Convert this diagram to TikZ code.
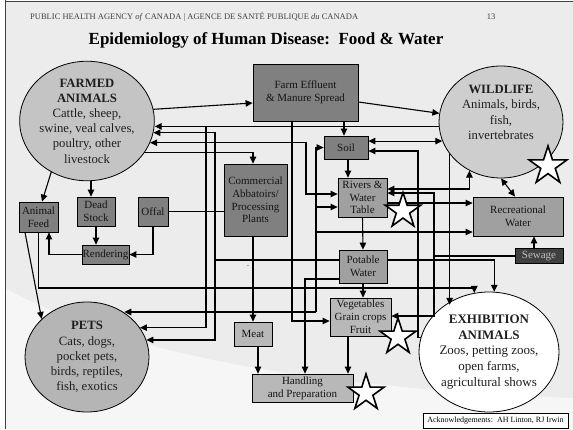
\documentclass[tikz,border=0pt]{standalone}
\usepackage{fontspec}
\setmainfont{Liberation Serif}
\usetikzlibrary{shapes.geometric,arrows.meta}

\definecolor{slidebg}{RGB}{236,236,236}
\definecolor{boxdark}{RGB}{128,128,128}
\definecolor{boxmid}{RGB}{160,160,160}
\definecolor{boxlight}{RGB}{184,184,184}
\definecolor{ovalfa}{RGB}{196,196,196}
\definecolor{ovalwl}{RGB}{206,206,206}
\definecolor{ovalpets}{RGB}{181,181,181}
\definecolor{sewfill}{RGB}{64,64,64}

\newcommand\boxfont{\fontsize{11}{12.8}\selectfont}
\newcommand\ovalfont{\fontsize{12.7}{15.2}\selectfont}

\tikzset{
  box/.style={draw=black, line width=0.8pt, align=center, inner sep=0pt, text=black!92, font=\boxfont},
  darkbox/.style={box, fill=boxdark},
  midbox/.style={box, fill=boxmid},
  lightbox/.style={box, fill=boxlight},
  oval/.style={ellipse, draw=black, line width=0.8pt, align=center, inner sep=0pt, text=black!88, font=\ovalfont},
  wstar/.style={star, star points=5, star point ratio=2.618, draw=black, line width=1.6pt, fill=white, inner sep=0pt},
  arr/.style={-{Triangle[length=7pt,width=6.5pt]}},
  darr/.style={{Triangle[length=7pt,width=6.5pt]}-{Triangle[length=7pt,width=6.5pt]}}
}

\begin{document}
\begin{tikzpicture}[x=1pt,y=-1pt]
  \useasboundingbox (0,0) rectangle (573,429);

  % slide background
  \fill[slidebg] (5,2) rectangle (573,429);
  \fill[white!55!slidebg] (5,288) .. controls (110,345) and (260,385) .. (573,398)
    -- (573,429) -- (5,429) -- cycle;
  \draw[black!75, line width=1pt] (5,0) -- (5,429);
  \draw[black!75, line width=1pt] (5,1.5) -- (573,1.5);

  \node[font=\fontsize{8.5}{9}\selectfont, text=black!75, anchor=west, inner sep=0pt] (agency) at (30,17)
    {PUBLIC HEALTH AGENCY \textit{of} CANADA {\textbar} AGENCE DE SANTÉ PUBLIQUE \textit{du} CANADA};
  \node[font=\fontsize{8.5}{9}\selectfont, text=black!75, inner sep=0pt] (pageno) at (491,17) {13};
  \node[font=\fontsize{17}{20}\selectfont\bfseries, inner sep=0pt] (title) at (266,40)
    {Epidemiology of Human Disease:\ \ Food \& Water};

  % ovals
  \node[oval, fill=ovalfa, minimum width=124pt, minimum height=114pt] (fa) at (87,121)
    {\textbf{FARMED}\\\textbf{ANIMALS}\\Cattle, sheep,\\swine, veal calves,\\poultry, other\\livestock};
  \node[oval, fill=ovalwl, minimum width=124pt, minimum height=112pt] (wl) at (501,122)
    {\textbf{WILDLIFE}\\Animals, birds,\\fish,\\invertebrates\\[4pt]};
  \node[oval, fill=ovalpets, minimum width=124pt, minimum height=110pt] (pets) at (87,357)
    {\textbf{PETS}\\Cats, dogs,\\pocket pets,\\birds, reptiles,\\fish, exotics};
  \node[oval, fill=white, minimum width=126pt, minimum height=120pt, font=\fontsize{13}{15.6}\selectfont] (ex) at (489,352)
    {\textbf{EXHIBITION}\\\textbf{ANIMALS}\\Zoos, petting zoos,\\open farms,\\agricultural shows};

  % boxes
  \node[darkbox, minimum width=105pt, minimum height=57pt] (fe) at (305.5,92.5) {Farm Effluent\\\& Manure Spread};
  \node[darkbox, minimum width=44pt, minimum height=23pt] (soil) at (346,147.5) {Soil};
  \node[midbox, minimum width=49pt, minimum height=39pt] (rivers) at (362.5,197.5) {Rivers \&\\Water\\Table};
  \node[midbox, minimum width=90pt, minimum height=39pt] (recreational) at (518,216.5) {Recreational\\Water};
  \node[box, fill=sewfill, text=black!25, minimum width=48pt, minimum height=15pt] (sewage) at (539,256) {Sewage};
  \node[darkbox, minimum width=63pt, minimum height=72pt] (commercial) at (255.5,200) {Commercial\\Abbatoirs/\\Processing\\Plants};
  \node[darkbox, minimum width=39pt, minimum height=30pt] (feed) at (38.5,217) {Animal\\Feed};
  \node[darkbox, minimum width=38pt, minimum height=29pt] (deadstock) at (96,211.5) {Dead\\Stock};
  \node[darkbox, minimum width=30pt, minimum height=29pt] (offal) at (153,211.5) {Offal};
  \node[darkbox, minimum width=47pt, minimum height=19pt] (rendering) at (105.5,254.5) {Rendering};
  \node[midbox, minimum width=48pt, minimum height=33pt] (potable) at (363,266.5) {Potable\\Water};
  \node[lightbox, minimum width=61pt, minimum height=38pt] (veg) at (360.5,317) {Vegetables\\Grain crops\\Fruit};
  \node[lightbox, minimum width=38pt, minimum height=24pt] (meat) at (253,334) {Meat};
  \node[lightbox, minimum width=101pt, minimum height=28pt] (handling) at (302.5,388) {Handling\\and Preparation};
  \node[draw, fill=white, line width=0.5pt, minimum width=145pt, minimum height=15pt, inner sep=0pt,
        font=\fontsize{8}{9}\selectfont] (ack) at (495.5,420.5) {Acknowledgements:\ \ AH Linton, RJ Irwin};
  \node[font=\fontsize{8}{8}\selectfont, inner sep=0pt] (speck) at (248,266) {.};

  \begin{scope}[line width=1.1pt]
    % farmed animals
    \draw[arr] (fa.10) -- (fe.west |- 0,103);
    \draw[arr] (91,0 |- fa.south) -- (91,0 |- deadstock.north);
    \draw[arr] (fa.235) -- (42,0 |- feed.north);
    \draw[arr] (fa.331) -| (253,0 |- commercial.north);
    \draw[darr] (fa.341) -| (306,194) -- (rivers.west |- 0,194);
    \draw[arr] (96,0 |- deadstock.south) -- (96,0 |- rendering.north);
    \draw[arr] (offal.south) |- (rendering.east);
    \draw[arr] (rendering.west) -| (49,0 |- feed.south);
    \draw (offal.east) -- (offal.east -| commercial.west);
    \draw[arr] (25,0 |- feed.south) -- (pets.140);
    \draw[arr] (feed.south) -- (feed.south |- 0,288) -| (ex.104);
    \draw[arr] (253,0 |- commercial.south) -- (meat.north);
    \draw[arr] (258,0 |- meat.south) -- (258,0 |- handling.north);

    % effluent, soil, water
    \draw[arr] (fe.east |- 0,102) -- (wl.172);
    \draw[arr] (344,0 |- fe.south) -- (344,0 |- soil.north);
    \draw[arr] (292,0 |- fe.south) |- (veg.west |- 0,321);
    \draw[arr] (348,0 |- soil.south) -- (348,0 |- rivers.north);
    \draw[darr] (soil.east |- wl.198) -- (wl.198);
    \draw[arr] (ex.168) -| (418,151) -- (soil.east |- 0,151);
    \draw[arr] (rivers.south) -- (potable.north);
    \draw[darr] (rivers.east |- 0,189) -| (wl.237);
    \draw[arr] (rivers.east |- 0,203) -- (recreational.west |- 0,203);
    \draw[darr] (wl.south) -- (515,0 |- recreational.north);
    \draw[arr] (wl.212) -- (wl.212 |- ex.133);
    \draw[arr] (363,0 |- potable.south) -- (363,0 |- veg.north);
    \draw[arr] (potable.east |- 0,260) -| (ex.85);
    \draw[arr] (potable.west |- 0,279) -| (305,0 |- handling.north);
    \draw[arr] (348,0 |- veg.south) -- (348,0 |- handling.north);

    % sewage
    \coordinate (sewj) at (434,256);
    \draw (sewage.west) -- (sewj);
    \draw[arr] (sewj) |- (rivers.east |- 0,193);
    \draw[arr] (sewj) |- (veg.east |- 0,316);
    \draw[arr] (534,0 |- sewage.north) -- (534,0 |- recreational.south);

    % pets bus
    \coordinate (petsbus) at (316,312);
    \draw[arr] (petsbus) -- (pets.50 |- petsbus);
    \draw[arr] (petsbus) |- (soil.west);
    \draw[arr] (316,207) -- (rivers.west |- 0,207);
    \draw[arr] (316,232) -- (recreational.west |- 0,232);

    % wildlife to farmed and pets
    \draw[arr] (wl.184) -- (wl.184 -| fa.east);
    \coordinate (wlj) at (206,0 |- wl.184);
    \draw[arr] (wlj) |- (pets.29);

    % potable water to farmed and pets
    \coordinate (potj) at (215,260);
    \draw (potable.west |- potj) -- (potj);
    \draw[arr] (potj) |- (fa.350);
    \draw[arr] (potj) |- (pets.16);
  \end{scope}

  % stars
  \node[wstar, minimum size=40pt] (starwl) at (548,166) {};
  \node[wstar, minimum size=37pt] (starrv) at (403,211) {};
  \node[wstar, minimum size=38pt] (starvg) at (398,337) {};
  \node[wstar, minimum size=38pt] (starhp) at (366,393) {};
\end{tikzpicture}
\end{document}
